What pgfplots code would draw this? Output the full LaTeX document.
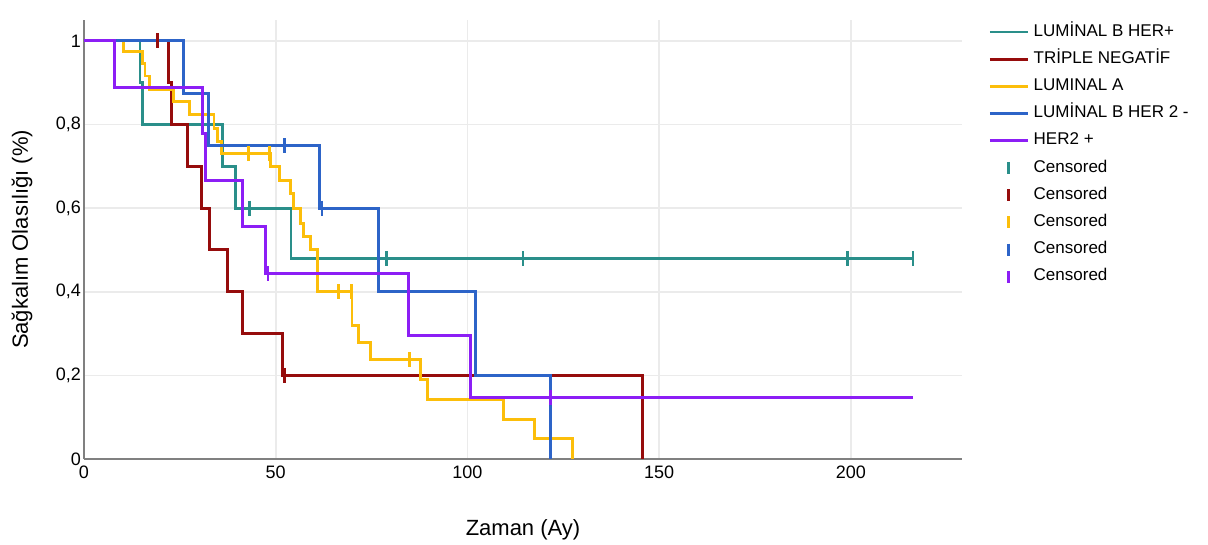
\documentclass[border=0pt]{standalone}
\usepackage{pgfplots}
\pgfplotsset{compat=1.18}
\usepackage{fontspec}
\setmainfont{Liberation Sans}
\definecolor{cteal}{RGB}{42,143,138}
\definecolor{cred}{RGB}{150,12,12}
\definecolor{cyel}{RGB}{252,190,10}
\definecolor{cblue}{RGB}{45,100,200}
\definecolor{cpurp}{RGB}{140,30,245}
\pgfplotsset{
  kmline/.style={const plot, line width=1.45pt, no markers,
    legend image code/.code={\draw[##1] (0pt,0pt) -- (19pt,0pt);}},
  censor/.style={only marks, mark=|, mark size=3.7pt, line width=1.4pt,
    legend image code/.code={\draw[##1, mark size=3pt] plot coordinates {(9.5pt,0pt)};}},
}
\begin{document}
\begin{tikzpicture}
\useasboundingbox (-42pt,-43pt) rectangle (562pt,229.5pt);
\begin{axis}[
  at={(0pt,0pt)}, anchor=south west,
  scale only axis, width=439pt, height=219.5pt,
  xmin=0, xmax=229, ymin=0, ymax=1.05,
  axis x line=bottom, axis y line=left,
  axis line style={draw=black!50, line width=0.9pt, -},
  xtick={0,50,100,150,200}, ytick={0,0.2,0.4,0.6,0.8,1},
  major tick length=0pt,
  grid=major, major grid style={draw=black!8, line width=0.8pt},
  tick label style={font=\fontsize{9}{10}\selectfont},
  yticklabel style={xshift=2pt},
  /pgf/number format/use comma, /pgf/number format/assume math mode=true,
  xlabel={Zaman (Ay)}, ylabel={Sağkalım Olasılığı (\%)},
  label style={font=\fontsize{11}{13}\selectfont},
  xlabel style={at={(axis description cs:0.5,-0.162)}, anchor=center},
  ylabel style={at={(axis description cs:-0.0706,0.5)}, anchor=center},
  legend cell align=left,
  legend style={at={(rel axis cs:1,1)}, anchor=north west, xshift=13pt, yshift=0.5pt,
    draw=none, fill=none, inner sep=0pt, row sep=1pt,
    font=\fontsize{8.5}{10}\selectfont,
    nodes={inner sep=2.2pt, text height=6.2pt, text depth=2pt}},
]
% LUMINAL B HER+
\addplot[kmline, cteal] coordinates {(0,1) (14.6,0.9) (15.3,0.8) (36.1,0.7) (39.6,0.6) (54.0,0.48) (216.2,0.48)};
\addlegendentry{LUMİNAL B HER+}
% TRIPLE NEGATIF
\addplot[kmline, cred] coordinates {(0,1) (22.0,0.9) (22.9,0.8) (27.1,0.7) (30.7,0.6) (32.7,0.5) (37.5,0.4) (41.4,0.3) (51.8,0.2) (145.6,0)};
\addlegendentry{TRİPLE NEGATİF}
% LUMINAL A
\addplot[kmline, cyel] coordinates {(0,1) (10.4,0.974) (15.2,0.947) (15.9,0.916) (17.1,0.884) (23.3,0.855) (27.5,0.823) (33.9,0.791) (34.8,0.759) (35.9,0.731) (48.6,0.70) (51.0,0.667) (53.8,0.636) (54.7,0.60) (56.4,0.564) (57.2,0.532) (59.0,0.50) (61.0,0.40) (69.9,0.32) (71.5,0.279) (74.7,0.238) (87.7,0.191) (89.5,0.143) (109.5,0.095) (117.5,0.048) (127.5,0)};
\addlegendentry{LUMINAL A}
% LUMINAL B HER 2 -
\addplot[kmline, cblue] coordinates {(0,1) (26.0,0.875) (32.5,0.75) (61.4,0.6) (76.7,0.4) (102.2,0.2) (121.7,0)};
\addlegendentry{LUMİNAL B HER 2 -}
% HER2 +
\addplot[kmline, cpurp] coordinates {(0,1) (7.9,0.889) (31.0,0.778) (31.6,0.667) (41.3,0.556) (47.3,0.444) (84.7,0.296) (100.8,0.148) (216.2,0.148)};
\addlegendentry{HER2 +}
% Censored
\addplot[censor, cteal] coordinates {(43.2,0.6) (79.0,0.48) (114.5,0.48) (199.2,0.48) (216.2,0.48)};
\addlegendentry{Censored}
\addplot[censor, cred] coordinates {(19.2,1.0) (52.3,0.2)};
\addlegendentry{Censored}
\addplot[censor, cyel] coordinates {(42.9,0.731) (48.3,0.731) (66.4,0.4) (69.7,0.4) (84.9,0.238)};
\addlegendentry{Censored}
\addplot[censor, cblue] coordinates {(52.3,0.75) (62.1,0.6)};
\addlegendentry{Censored}
\addplot[censor, cpurp] coordinates {(48.0,0.444) (121.7,0.148)};
\addlegendentry{Censored}
\end{axis}
\end{tikzpicture}
\end{document}
